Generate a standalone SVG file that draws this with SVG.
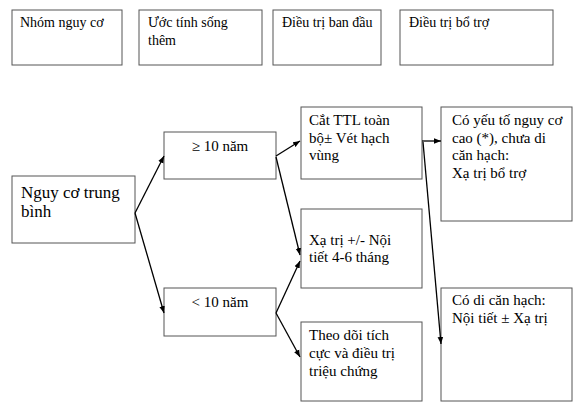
<svg xmlns="http://www.w3.org/2000/svg" width="576" height="405" viewBox="0 0 576 405" font-family="'Liberation Serif', 'DejaVu Serif', serif">
<defs>
<marker id="ah" viewBox="0 0 10 10" refX="10" refY="5" markerWidth="7" markerHeight="7" markerUnits="userSpaceOnUse" orient="auto">
<path d="M0,1 L10,5 L0,9 Z" fill="#000"/>
</marker>
</defs>
<style>
.box{fill:#fff;stroke:#555;stroke-width:1}
text{font-family:'Liberation Serif','DejaVu Serif',serif;fill:#000;font-size:15px}
.h{font-size:14px}
.big{font-size:17px}
.c{stroke:#000;stroke-width:1.3;fill:none;marker-end:url(#ah)}
</style>
<rect width="576" height="405" fill="#fff"/>
<g id="h1"><rect class="box" x="12" y="10" width="110" height="55"/><text class="h" x="20" y="27">Nhóm nguy cơ</text></g>
<g id="h2"><rect class="box" x="139" y="10" width="123" height="55"/><text class="h" x="148" y="27">Ước tính sống</text><text class="h" x="148" y="45">thêm</text></g>
<g id="h3"><rect class="box" x="273" y="10" width="108" height="55"/><text class="h" x="282" y="27">Điều trị ban đầu</text></g>
<g id="h4"><rect class="box" x="400" y="10" width="153" height="55"/><text class="h" x="409" y="27">Điều trị bổ trợ</text></g>
<g id="n_risk"><rect class="box" x="12" y="176" width="123" height="67"/><text class="big" x="21" y="198">Nguy cơ trung</text><text class="big" x="21" y="217">bình</text></g>
<g id="n_ge10"><rect class="box" x="164" y="132" width="112" height="47"/><text x="220" y="151" text-anchor="middle">≥ 10 năm</text></g>
<g id="n_lt10"><rect class="box" x="164" y="288" width="112" height="48"/><text x="220" y="307" text-anchor="middle">&lt; 10 năm</text></g>
<g id="n_cat"><rect class="box" x="301" y="107" width="121" height="72"/><text x="309" y="125">Cắt TTL toàn</text><text x="309" y="142.5">bộ± Vét hạch</text><text x="309" y="160">vùng</text></g>
<g id="n_xatri"><rect class="box" x="301" y="209" width="121" height="79"/><text x="309" y="245">Xạ trị +/- Nội</text><text x="309" y="262">tiết 4-6 tháng</text></g>
<g id="n_theodoi"><rect class="box" x="301" y="322" width="121" height="79"/><text x="309" y="340">Theo dõi tích</text><text x="309" y="358">cực và điều trị</text><text x="309" y="376">triệu chứng</text></g>
<g id="n_coyeuto"><rect class="box" x="441" y="107" width="131" height="114"/><text x="452" y="125">Có yếu tố nguy cơ</text><text x="452" y="142.5">cao (*), chưa di</text><text x="452" y="160">căn hạch:</text><text x="452" y="177.5">Xạ trị bổ trợ</text></g>
<g id="n_codican"><rect class="box" x="441" y="288" width="131" height="113"/><text x="452" y="305">Có di căn hạch:</text><text x="452" y="323">Nội tiết ± Xạ trị</text></g>
<g id="connectors">
<line class="c" x1="135" y1="213" x2="164" y2="156"/>
<line class="c" x1="135" y1="213" x2="164" y2="313"/>
<line class="c" x1="276" y1="156" x2="300" y2="141"/>
<line class="c" x1="276" y1="157" x2="300" y2="255"/>
<line class="c" x1="276" y1="313" x2="300" y2="261"/>
<line class="c" x1="276" y1="313" x2="300" y2="357"/>
<line class="c" x1="422" y1="141" x2="441" y2="141"/>
<line class="c" x1="423" y1="142" x2="441" y2="344"/>
</g>
</svg>
